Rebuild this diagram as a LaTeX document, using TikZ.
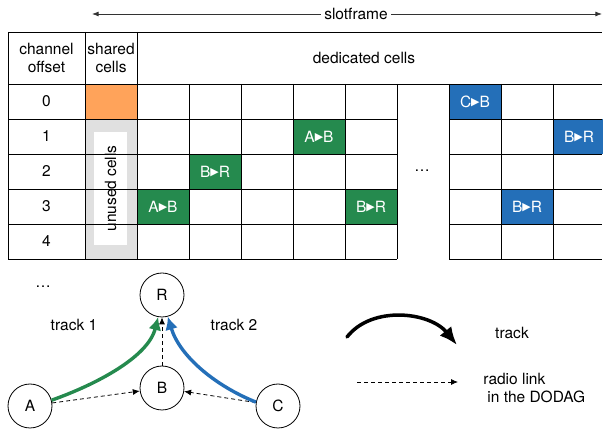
\documentclass[tikz,border=0pt]{standalone}
\usepackage{fontspec}
\setmainfont{TeX Gyre Heros}
\newfontfamily\symb{DejaVu Sans}
\usetikzlibrary{arrows.meta}

\definecolor{orng}{RGB}{255,163,90}
\definecolor{grn}{RGB}{37,138,78}
\definecolor{blu}{RGB}{36,111,184}
\definecolor{unused}{RGB}{224,224,224}

\begin{document}
\begin{tikzpicture}[x=1pt,y=-1pt,>=Latex,line width=0.8pt,
	font=\fontsize{15.5}{18}\selectfont,
	mote/.style={circle,draw,minimum size=44pt,inner sep=0pt},
	radio/.style={dash pattern=on 4pt off 3pt,-{Latex[length=7pt,width=6pt]}},
	trk/.style={line width=3.4pt,-{Latex[length=13pt,width=13pt]}}]
\useasboundingbox (0,0) rectangle (603,435);
\def\cw{52}
\def\rh{35}

\def\tri{\raisebox{1.5pt}{\symb\fontsize{11}{11}\selectfont ▶}}

% coloured slot: left x, row, colour, text, name
\def\slot#1#2#3#4#5{
	\fill[#3] (#1,{84+#2*\rh}) rectangle ++(\cw,\rh);
	\node[text=white] (#5) at ({#1+\cw/2},{84+(#2+0.5)*\rh}) {#4};
}

\def\raster{
	\draw (8,32) -- (602,32);
	\draw (8,84) -- (602,84);
	\foreach \x in {8,85,137}
		\draw (\x,32) -- (\x,259);
	\foreach \x in {189,241,...,397}
		\draw (\x,84) -- (\x,259);
	\foreach \x in {449,501,553}
		\draw (\x,84) -- (\x,259);
	\foreach \y in {119,154,...,259}{
		\draw (8,\y) -- (397,\y);
		\draw (449,\y) -- (602,\y);
	}
}

% shared column
\fill[orng] (85,84) rectangle (137,119);
\fill[unused] (85,119) rectangle (137,259);
\node[fill=white,rotate=90,minimum width=113,minimum height=33,inner sep=0pt] (unused) at (110.5,188.5) {unused cells};

% track 1
\slot{137}{3}{grn}{A\tri B}{g1}
\slot{189}{2}{grn}{B\tri R}{g2}
\slot{293}{1}{grn}{A\tri B}{g3}
\slot{345}{3}{grn}{B\tri R}{g4}
% track 2
\slot{449}{0}{blu}{C\tri B}{b1}
\slot{501}{3}{blu}{B\tri R}{b2}
\slot{553}{1}{blu}{B\tri R}{b3}

\raster

\node[align=center] (chan) at (46.5,58) {channel\\offset};
\node[align=center] (shrd) at (111,58) {shared\\cells};
\node (ded) at (364,58) {dedicated cells};
\foreach \r in {0,...,4}
	\node (co\r) at (46.5,{101.5+\rh*\r}) {\r};
\node (gapdots) at (422,171) {\ldots};

% slotframe
\coordinate (sf-l) at (92,14);
\coordinate (sf-r) at (602,14);
\draw[<->,black!80] (sf-l) -- (sf-r);
\node[fill=white] (sf) at (356,14) {slotframe};

% DODAG
\node (moredots) at (43,287) {\ldots};
\node[mote] (R) at (162,295) {R};
\node[mote] (B) at (162,388) {B};
\node[mote] (A) at (30,406) {A};
\node[mote] (C) at (278,406) {C};

\draw[radio] (A) -- (B);
\draw[radio] (C) -- (B);
\draw[radio] (B) -- (R);
\draw[trk,grn] (A.15) .. controls +(45,-16) and +(-10,40) .. (R.260);
\draw[trk,blu] (C.170) .. controls +(-40,-16) and +(12,40) .. (R.285);

\node (t1) at (74,325) {track 1};
\node (t2) at (234,325) {track 2};

% legend
\coordinate (lg-a) at (347,337);
\coordinate (lg-b) at (457,345);
\draw[line width=3.5pt,line cap=round,-{Latex[length=18pt,width=15pt]}] (lg-a) .. controls (372,305) and (430,312) .. (lg-b);
\node (lg-trk) at (512,333) {track};
\coordinate (lg-c) at (357,382);
\coordinate (lg-d) at (458,382);
\draw[radio] (lg-c) -- (lg-d);
\node[align=left,anchor=west,inner sep=0pt] (lg-rad) at (483,388) {radio link\\\hspace*{4pt}in the DODAG};

\end{tikzpicture}
\end{document}
